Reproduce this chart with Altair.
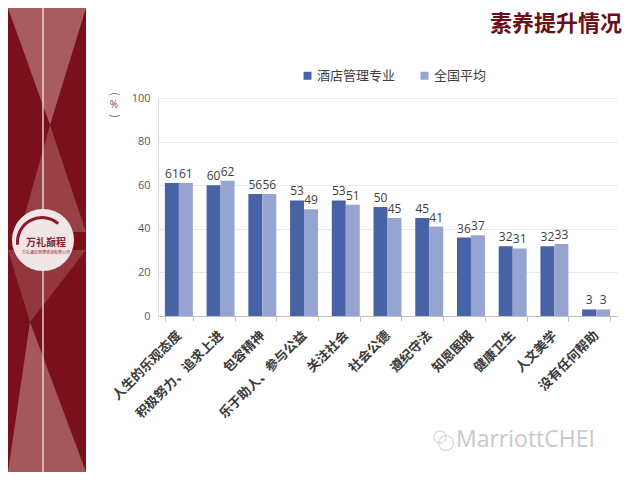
import altair as alt
import pandas as pd

categories = ["人生的乐观态度", "积极努力、追求上进", "包容精神", "乐于助人、参与公益",
              "关注社会", "社会公德", "遵纪守法", "知恩图报", "健康卫生", "人文美学", "没有任何帮助"]
series_names = ["酒店管理专业", "全国平均"]
hotel = [61, 60, 56, 53, 53, 50, 45, 36, 32, 32, 3]
national = [61, 62, 56, 49, 51, 45, 41, 37, 31, 33, 3]
y_ticks = [0, 20, 40, 60, 80, 100]

rows = []
for c, h, n in zip(categories, hotel, national):
    rows.append({"cat": c, "series": series_names[0], "value": h})
    rows.append({"cat": c, "series": series_names[1], "value": n})
df = pd.DataFrame(rows)

W, H = 459, 218
PL, PT = 150, 90
OX, OY = 8 + PL, 8 + PT  # page coords of plot origin

FONT = "Noto Sans CJK SC"
colors = ["#4763a6", "#95a4d1"]

x = alt.X("cat:N", sort=categories, title=None,
          scale=alt.Scale(paddingInner=0.33, paddingOuter=0.165),
          axis=alt.Axis(labelAngle=-45, labelAlign="right", labelBaseline="middle",
                        labelFont=FONT, labelFontSize=13, labelFontWeight="bold",
                        labelColor="#3a3a3a", labelPadding=12, tickBand="extent",
                        tickColor="#bfbfbf", tickSize=5, domainColor="#bfbfbf",
                        grid=False))
y = alt.Y("value:Q", title=None,
          scale=alt.Scale(domain=[0, 100]),
          axis=alt.Axis(values=y_ticks, labelFont="Open Sans", labelFontSize=11,
                        labelColor="#595959", labelPadding=8, ticks=False,
                        domainColor="#d9d9d9", gridColor="#e8e8e8"))
xo = alt.XOffset("series:N", sort=series_names, scale=alt.Scale(paddingInner=0, paddingOuter=0))
color = alt.Color("series:N", sort=series_names,
                  scale=alt.Scale(domain=series_names, range=colors),
                  legend=alt.Legend(title=None, orient="none", direction="horizontal",
                                    legendX=143, legendY=-29, symbolType="square",
                                    symbolSize=64, symbolStrokeWidth=0,
                                    labelFont=FONT, labelFontSize=13, labelColor="#404040",
                                    columnPadding=22, labelOffset=3))

bars = alt.Chart(df).mark_bar().encode(x=x, y=y, xOffset=xo, color=color)
labels = alt.Chart(df).mark_text(dy=-9, font="Open Sans", fontSize=12, color="#404040").encode(
    x=x, y=y, xOffset=xo, text="value:Q")

one = pd.DataFrame({"k": [0]})
base = alt.Chart(one)


def vx(px):
    return px - OX


def vy(py):
    return py - OY


def poly(points, color, opacity=1.0):
    xs = [p[0] for p in points]
    ys = [p[1] for p in points]
    cx = (min(xs) + max(xs)) / 2
    cy = (min(ys) + max(ys)) / 2
    s = max(max(xs) - min(xs), max(ys) - min(ys)) / 2
    path = "M" + "L".join(f"{(px - cx) / s:.4f},{(py - cy) / s:.4f}" for px, py in points) + "Z"
    return base.mark_point(shape=path, filled=True, size=(2 * s) ** 2, color=color,
                           opacity=opacity, strokeWidth=0).encode(
        x=alt.value(vx(cx)), y=alt.value(vy(cy)))


panel = base.mark_rect(color="#7a1019").encode(
    x=alt.value(vx(8)), x2=alt.value(vx(86)), y=alt.value(vy(8)), y2=alt.value(vy(472)))
pink = "#b06a6a"
tri1 = poly([(8, 8), (86, 8), (50, 125)], pink, 0.85)
tri2 = poly([(50, 125), (20, 232), (86, 232)], pink, 0.55)
tri3 = poly([(8, 250), (86, 250), (30, 322)], pink, 0.45)
tri4 = poly([(30, 322), (8, 472), (86, 472)], pink, 0.8)
vline = base.mark_rule(color="#f2dede", strokeWidth=1.5, opacity=0.9).encode(
    x=alt.value(vx(43)), y=alt.value(vy(8)), y2=alt.value(vy(472)))
logo_circle = base.mark_circle(color="#f1e6e7", opacity=1, size=3.14159 * 35 ** 2).encode(
    x=alt.value(vx(43)), y=alt.value(vy(240)))
logo_ring = base.mark_arc(color="#8b1a2a", radius=26, radius2=23, theta=4.6, theta2=7.0).encode(
    x=alt.value(vx(42)), y=alt.value(vy(242)))
logo_text = base.mark_text(font=FONT, fontSize=10, color="#8b2236", fontWeight="bold").encode(
    x=alt.value(vx(46)), y=alt.value(vy(243)), text=alt.value("万礼巅程"))
logo_sub = base.mark_text(font=FONT, fontSize=4, color="#8b2236").encode(
    x=alt.value(vx(46)), y=alt.value(vy(253)), text=alt.value("万礼酒店管理咨询有限公司"))

title = base.mark_text(font=FONT, fontSize=22, fontWeight="bold", color="#6b0f14",
                       align="right", baseline="middle").encode(
    x=alt.value(vx(622)), y=alt.value(vy(24)), text=alt.value("素养提升情况"))
yt_open = base.mark_text(font=FONT, fontSize=11, color="#595959", angle=90,
                         baseline="middle").encode(
    x=alt.value(vx(114)), y=alt.value(vy(94)), text=alt.value("("))
yt_pct = base.mark_text(font="Open Sans", fontSize=10, color="#595959",
                        baseline="middle").encode(
    x=alt.value(vx(114)), y=alt.value(vy(105)), text=alt.value("%"))
yt_close = base.mark_text(font=FONT, fontSize=11, color="#595959", angle=90,
                          baseline="middle").encode(
    x=alt.value(vx(114)), y=alt.value(vy(116)), text=alt.value(")"))
wm = base.mark_text(font="Open Sans", fontSize=23, color="#c9c9c9", align="left",
                    baseline="middle").encode(
    x=alt.value(vx(456)), y=alt.value(vy(440)), text=alt.value("MarriottCHEI"))
wm_icon1 = base.mark_point(shape="circle", size=150, color="#c9c9c9", strokeWidth=1.2).encode(
    x=alt.value(vx(440)), y=alt.value(vy(437)))
wm_icon2 = base.mark_point(shape="circle", size=220, color="#c9c9c9", strokeWidth=1.2).encode(
    x=alt.value(vx(446)), y=alt.value(vy(443)))

chart = alt.layer(
    panel, tri1, tri2, tri3, tri4, vline, logo_circle, logo_ring, logo_text, logo_sub,
    bars, labels, title, yt_open, yt_pct, yt_close, wm_icon1, wm_icon2, wm
).properties(
    width=W, height=H,
    autosize=alt.AutoSizeParams(type="none"),
    padding={"left": PL, "top": PT, "right": 640 - 16 - PL - W, "bottom": 480 - 16 - PT - H},
    background="white",
).configure_view(stroke=None)

chart.save("out.html", embed_options={"renderer": "svg", "actions": False})
